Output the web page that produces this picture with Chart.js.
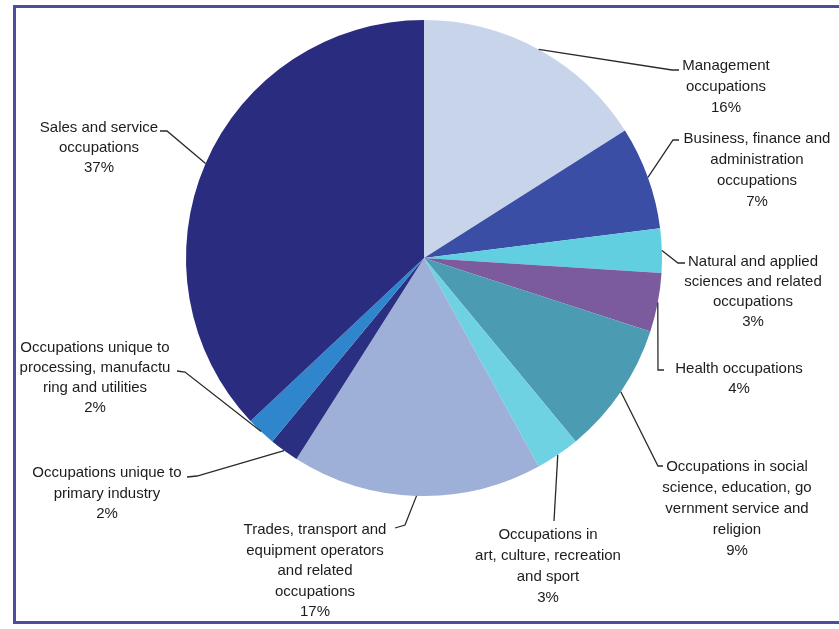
<!DOCTYPE html>
<html>
<head>
<meta charset="utf-8">
<script src="https://cdn.jsdelivr.net/npm/chart.js@4.4.1/dist/chart.umd.min.js"></script>
<style>
  html, body { margin: 0; padding: 0; background: #fff; overflow: hidden; }
  #wrap { position: relative; width: 839px; height: 629px; }
  #frame { position: absolute; left: 13px; top: 5px; width: 900px; height: 619px;
           border: 3px solid #4b4d9f; box-sizing: border-box; }
  canvas { position: absolute; left: 0; top: 0; }
</style>
</head>
<body>
<div id="wrap">
  <div id="frame"></div>
  <canvas id="occupationChart" width="839" height="629"></canvas>
</div>
<script>
// categories, clockwise from 12 o'clock (label lines as printed)
var categories = [
  ["Management", "occupations"],
  ["Business, finance and", "administration", "occupations"],
  ["Natural and applied", "sciences and related", "occupations"],
  ["Health occupations"],
  ["Occupations in social", "science, education, go", "vernment service and", "religion"],
  ["Occupations in", "art, culture, recreation", "and sport"],
  ["Trades, transport and", "equipment operators", "and related", "occupations"],
  ["Occupations unique to", "primary industry"],
  ["Occupations unique to", "processing, manufactu", "ring and utilities"],
  ["Sales and service", "occupations"]
];
var shares = [16, 7, 3, 4, 9, 3, 17, 2, 2, 37];
var sliceColors = ["#c8d4ea", "#3a4ea6", "#62cfe1", "#7b5b9d", "#4b9cb2",
                   "#6fd2e3", "#9eafd8", "#2a2f82", "#2f86cc", "#2a2c80"];

// where each label block sits and the bend of its leader line
var labelLayout = [
  { cx: 726, y: 66,  dy: 21,   leader: [[672, 70], [679, 70]] },
  { cx: 757, y: 139, dy: 21,   leader: [[673, 140], [679, 140]] },
  { cx: 753, y: 262, dy: 20,   leader: [[678, 263], [685, 263]] },
  { cx: 739, y: 369, dy: 20,   leader: [[658, 370], [664, 370]] },
  { cx: 737, y: 467, dy: 21,   leader: [[658, 466], [663, 466]] },
  { cx: 548, y: 535, dy: 21,   leader: [[554, 521]] },
  { cx: 315, y: 530, dy: 20.5, leader: [[405, 525], [395, 528]] },
  { cx: 107, y: 473, dy: 20.5, leader: [[197, 476], [187, 477]] },
  { cx: 95,  y: 348, dy: 20,   leader: [[185, 372], [177, 371]] },
  { cx: 99,  y: 128, dy: 20,   leader: [[167, 131], [160, 131]] }
];

var calloutLabels = {
  id: 'calloutLabels',
  afterDraw(chart) {
    var ctx = chart.ctx;
    var arcs = chart.getDatasetMeta(0).data;
    ctx.save();
    ctx.strokeStyle = "#2a2a2a";
    ctx.lineWidth = 1.3;
    ctx.fillStyle = "#1c1c1c";
    ctx.font = "15px 'Liberation Sans', Arial, sans-serif";
    ctx.textAlign = "center";
    ctx.textBaseline = "middle";
    arcs.forEach((arc, i) => {
      var lay = labelLayout[i];
      var mid = (arc.startAngle + arc.endAngle) / 2;
      ctx.beginPath();
      ctx.moveTo(arc.x + arc.outerRadius * Math.cos(mid), arc.y + arc.outerRadius * Math.sin(mid));
      lay.leader.forEach(p => ctx.lineTo(p[0], p[1]));
      ctx.stroke();
      var lines = categories[i].concat([shares[i] + "%"]);
      lines.forEach((t, k) => ctx.fillText(t, lay.cx, lay.y + k * lay.dy));
    });
    ctx.restore();
  }
};

var ctx = document.getElementById("occupationChart");
var chart = new Chart(ctx, {
  type: 'pie',
  data: {
    labels: categories.map(c => c.join(" ")),
    datasets: [{
      data: shares,
      backgroundColor: sliceColors,
      borderWidth: 0,
      hoverOffset: 0
    }]
  },
  options: {
    responsive: false,
    animation: false,
    devicePixelRatio: 1,
    events: [],
    layout: { padding: { left: 186, top: 20, right: 177, bottom: 133 } },
    plugins: {
      legend: { display: false },
      tooltip: { enabled: false }
    }
  },
  plugins: [calloutLabels]
});
</script>
</body>
</html>
